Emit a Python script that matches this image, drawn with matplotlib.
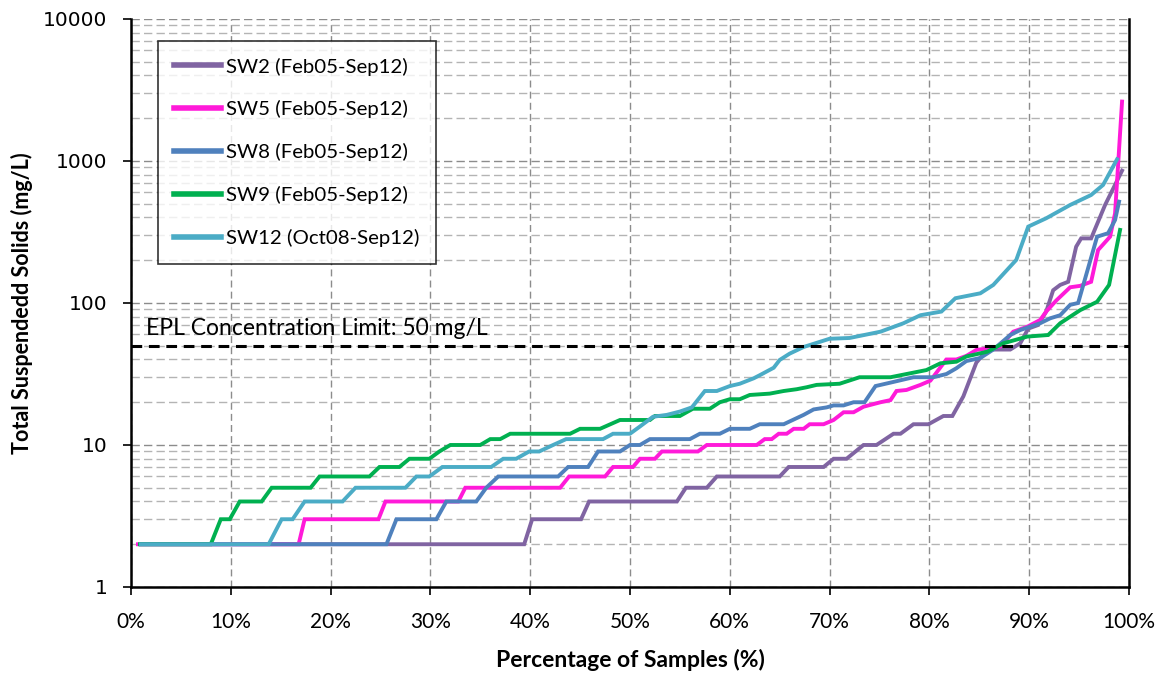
import matplotlib
matplotlib.use("Agg")
import matplotlib.pyplot as plt
from matplotlib.ticker import FixedLocator, NullFormatter, PercentFormatter

plt.rcParams['font.family'] = ['Lato', 'DejaVu Sans']

# sample percentage (%) and TSS (mg/L)
sw2_pct = [1.0, 39.4, 40.2, 45.1, 45.9, 54.7, 55.6, 57.7, 58.7, 65.0, 65.9, 69.4, 70.4, 71.7,
           73.4, 74.7, 76.4, 77.1, 78.4, 79.9, 81.4, 82.3, 83.4, 84.7, 85.8, 88.1, 89.1, 89.9,
           90.9, 91.7, 92.4, 93.1, 93.9, 94.7, 95.2, 96.2, 97.6, 99.3]
sw2_tss = [2, 2, 3, 3, 4, 4, 5, 5, 6, 6, 7, 7, 8, 8,
           10, 10, 12, 12, 14, 14, 16, 16, 22, 38, 47, 47, 52, 66,
           70, 87, 123, 134, 141, 249, 285, 285, 490, 855]

sw5_pct = [0.7, 16.8, 17.4, 24.8, 25.5, 32.8, 33.5, 43.0, 43.9, 47.5, 48.3, 50.3, 51.0, 52.5,
           53.2, 56.8, 57.7, 62.7, 63.5, 64.2, 64.9, 65.7, 66.4, 67.4, 68.0, 69.4, 70.4, 71.4,
           72.4, 73.4, 75.1, 76.1, 76.7, 77.7, 79.1, 80.1, 81.7, 82.7, 83.7, 84.7, 87.1, 88.4,
           89.8, 91.1, 91.7, 92.7, 94.1, 95.1, 96.2, 96.9, 98.1, 98.6, 99.3]
sw5_tss = [2, 2, 3, 3, 4, 4, 5, 5, 6, 6, 7, 7, 8, 8,
           9, 9, 10, 10, 11, 11, 12, 12, 13, 13, 14, 14, 15, 17,
           17, 18.6, 20, 20.7, 24, 24.4, 26.5, 28.4, 40, 40, 42.4, 46.7, 49.3, 62.8,
           68, 76, 87, 104, 129, 132, 141, 236, 293, 428, 2620]

sw8_pct = [1.0, 25.6, 26.6, 30.6, 31.6, 34.6, 35.6, 36.8, 42.8, 43.8, 45.8, 46.8, 49.0, 50.0,
           51.0, 52.0, 56.0, 57.0, 59.0, 60.0, 62.0, 63.0, 65.4, 67.4, 68.4, 69.7, 70.4, 71.4,
           72.4, 73.5, 74.6, 76.1, 78.4, 80.4, 81.7, 82.7, 83.7, 85.1, 86.4, 88.1, 89.1, 91.1,
           92.1, 93.1, 94.1, 94.9, 96.8, 97.9, 98.6, 99.0]
sw8_tss = [2, 2, 3, 3, 4, 4, 5, 6, 6, 7, 7, 9, 9, 10,
           10, 11, 11, 12, 12, 13, 13, 14, 14, 16.3, 17.8, 18.4, 19, 19,
           20, 20, 26, 27.5, 30, 30, 31.6, 34.7, 39, 41, 47, 59.5, 64.5, 72,
           78, 82, 97, 100, 293, 310, 384, 517]

sw9_pct = [0.9, 8.0, 9.0, 9.9, 10.9, 13.1, 14.1, 18.0, 18.9, 23.9, 24.9, 26.9, 27.9, 29.9,
           30.9, 32.0, 35.0, 36.0, 37.0, 38.0, 44.0, 45.0, 47.0, 49.0, 52.0, 52.5, 55.0, 56.3,
           58.0, 59.0, 60.0, 61.0, 62.0, 64.0, 65.4, 66.7, 67.7, 68.7, 71.0, 73.0, 76.1, 77.7,
           79.7, 81.1, 82.7, 83.7, 85.8, 87.4, 89.8, 91.9, 93.1, 95.1, 96.8, 98.0, 99.1]
sw9_tss = [2, 2, 3, 3, 4, 4, 5, 5, 6, 6, 7, 7, 8, 8,
           9, 10, 10, 11, 11, 12, 12, 13, 13, 15, 15, 16, 16, 18,
           18, 20, 21, 21, 22.5, 23, 24, 24.7, 25.5, 26.5, 27, 30, 30, 31.6,
           33.7, 37.6, 38.6, 42, 45.4, 52, 58, 59.5, 72, 89, 102, 134, 327]

sw12_pct = [1.0, 13.8, 15.1, 16.2, 17.4, 21.2, 22.5, 27.5, 28.6, 29.9, 31.2, 36.1, 37.3, 38.6,
            39.9, 40.9, 42.3, 43.6, 47.3, 48.3, 50.0, 51.0, 52.3, 53.7, 55.0, 56.2, 57.5, 58.7,
            60.0, 61.0, 62.4, 63.0, 64.4, 65.0, 66.0, 67.4, 70.0, 72.0, 75.1, 77.4, 79.1, 81.2,
            82.6, 85.1, 86.4, 88.7, 89.9, 91.7, 94.1, 96.2, 97.4, 98.8]
sw12_tss = [2, 2, 3, 3, 4, 4, 5, 5, 6, 6, 7, 7, 8, 8,
            9, 9, 10, 11, 11, 12, 12, 13.5, 15.8, 16.3, 17.2, 18.4, 24, 24,
            26, 27, 29.5, 31, 35, 39.7, 44, 49, 56, 56.7, 62.8, 72, 82, 87,
            108, 117, 134, 201, 345, 395, 490, 576, 678, 1028]

series = [
    ("SW2 (Feb05-Sep12)", sw2_pct, sw2_tss, "#8064A2"),
    ("SW5 (Feb05-Sep12)", sw5_pct, sw5_tss, "#FF1AD9"),
    ("SW8 (Feb05-Sep12)", sw8_pct, sw8_tss, "#4F81BD"),
    ("SW9 (Feb05-Sep12)", sw9_pct, sw9_tss, "#00B050"),
    ("SW12 (Oct08-Sep12)", sw12_pct, sw12_tss, "#4BACC6"),
]
epl_limit = 50
y_ticks = [1, 10, 100, 1000, 10000]
y_tick_labels = ["1", "10", "100", "1000", "10000"]

fig = plt.figure(figsize=(11.66, 6.73), dpi=100)
ax = fig.add_axes([0.1123, 0.1278, 0.856, 0.844])

# later series sit on top, SW12 last
for name, x, y, col in series:
    ax.plot(x, y, color=col, lw=2.8, solid_joinstyle='miter', label=name)

ax.axhline(epl_limit, color='black', lw=2.2, ls=(0, (3.5, 2.2)), zorder=3)
ax.text(1.5, 56, "EPL Concentration Limit: 50 mg/L", fontsize=16.5, ha='left', va='bottom')

ax.set_yscale('log')
ax.set_ylim(1, 10000)
ax.set_xlim(0, 100)
ax.xaxis.set_major_locator(FixedLocator(range(0, 101, 10)))
ax.xaxis.set_major_formatter(PercentFormatter(decimals=0))
ax.set_yticks(y_ticks)
ax.set_yticklabels(y_tick_labels, fontfamily='DejaVu Sans', fontsize=14.5)
ax.yaxis.set_minor_formatter(NullFormatter())

ax.grid(True, which='major', axis='x', color='#8c8c8c', ls=(0, (5, 3)), lw=1.0)
ax.grid(True, which='major', axis='y', color='#8c8c8c', ls=(0, (6, 3)), lw=1.0)
ax.grid(True, which='minor', axis='y', color='#b4b4b4', ls=(0, (6, 3)), lw=1.0)
ax.set_axisbelow(True)

ax.tick_params(axis='both', which='major', direction='out', length=6, width=1.2, color='black')
ax.tick_params(axis='x', which='major', labelsize=15, pad=12)
ax.tick_params(axis='y', which='major', pad=11)
ax.tick_params(axis='y', which='minor', length=0)
ax.spines['top'].set_visible(False)
for s in ('left', 'bottom', 'right'):
    ax.spines[s].set_linewidth(1.8)

ax.set_xlabel("Percentage of Samples (%)", fontsize=16.5, fontweight='bold', labelpad=12)
ax.set_ylabel("Total Suspendedd Solids (mg/L)", fontsize=15.5, fontweight='bold', labelpad=7)

leg = ax.legend(loc='upper left', bbox_to_anchor=(0.027, 0.961), borderaxespad=0,
                fontsize=14.7, frameon=True, fancybox=False, edgecolor='black',
                handlelength=2.3, handletextpad=0.25, labelspacing=1.22,
                borderpad=0.8)
leg.get_frame().set_linewidth(1.2)
for l in leg.get_lines():
    l.set_linewidth(4)

fig.savefig("out.png", dpi=100)
